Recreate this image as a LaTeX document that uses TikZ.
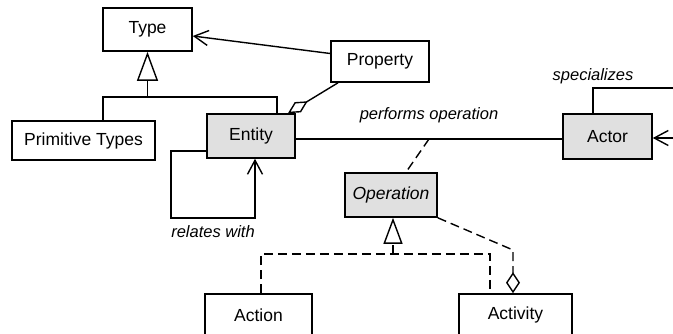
\documentclass[tikz,border=0pt]{standalone}
\usepackage{fontspec}
\setmainfont{Liberation Sans}
\usetikzlibrary{arrows.meta}
\definecolor{classgray}{HTML}{E0E0E0}

\begin{document}
\begin{tikzpicture}
  [
  x=1pt,y=-1pt,line width=1.4pt,
  font=\fontsize{17.5}{21}\selectfont,
  class/.style={rectangle,draw,line width=1.6pt,inner sep=0pt},
  core/.style={class,fill=classgray},
  role/.style={font=\fontsize{16.5}{20}\selectfont\itshape},
  dep/.style={dash pattern=on 9pt off 5pt},
  isa/.style={-{Triangle[open,length=29pt,width=21pt]}},
  realizes/.style={dep,-{Triangle[open,length=26pt,width=19pt]}},
  ref/.style={-{Straight Barb[length=14pt,width=15pt]}},
  part/.style={-{Diamond[open,length=23pt,width=12pt]}},
  whole/.style={dep,-{Diamond[open,length=21pt,width=14pt]}}
  ]
  \path[use as bounding box,clip] (0,0) rectangle (673,333);

  % classes
  \node[class,minimum width=89pt,minimum height=43pt] (type) at (147.5,29.5) {Type};
  \node[class,minimum width=98pt,minimum height=41pt] (property) at (380,61.5) {Property};
  \node[class,minimum width=143pt,minimum height=39pt] (prim) at (83.5,140.5) {Primitive Types};
  \node[core,minimum width=88pt,minimum height=44pt] (entity) at (251,136) {Entity};
  \node[core,minimum width=89pt,minimum height=45pt] (actor) at (607.5,136.5) {Actor};
  \node[core,minimum width=92pt,minimum height=44pt,font=\fontsize{17.5}{21}\selectfont\itshape] (operation) at (391,195) {Operation};
  \node[class,minimum width=107pt,minimum height=42pt] (action) at (258.5,315) {Action};
  \node[class,minimum width=113pt,minimum height=42pt] (activity) at (515.5,315) {Activity};

  % helper points
  \coordinate (fork) at (147.5,97);
  \coordinate (far) at (700,88);
  \coordinate (loop) at (171,218);
  \coordinate (join) at (393,254);
  \coordinate (kink) at (513,250);

  % Type hierarchy
  \draw[isa] (fork) -- (type.south);
  \draw ([xshift=19.5pt]prim.north) |- (fork) -| ([xshift=26pt]entity.north);
  \draw[ref] ([yshift=8pt]property.west) -- ([yshift=-6.5pt]type.east);
  \draw[part] ([xshift=-42pt]property.south) -- ([xshift=37pt]entity.north);

  % associations
  \draw ([yshift=-3pt]entity.east) -- node[role,above=12pt] {performs operation}
    coordinate[pos=.5] (mid) ([yshift=-2.5pt]actor.west);
  \draw[dep] (mid) -- ([xshift=15pt]operation.north);
  \draw[ref] ([xshift=-14.5pt]actor.north) |- node[role,pos=.5,above] {specializes}
    (far) |- ([yshift=-1.5pt]actor.east);
  \draw[ref] ([yshift=-15pt]entity.west) -| (loop) -| node[role,pos=.25,below=4pt] {relates with}
    ([xshift=4pt]entity.south);

  % Operation subtypes
  \draw[realizes] (join) -- ([xshift=2pt]operation.south);
  \draw[dep] ([xshift=2.5pt]action.north) |- (join) -| ([xshift=-25.5pt]activity.north);
  \draw[whole] (operation.south east) -- (kink) -- ([xshift=-2.5pt]activity.north);
\end{tikzpicture}
\end{document}
